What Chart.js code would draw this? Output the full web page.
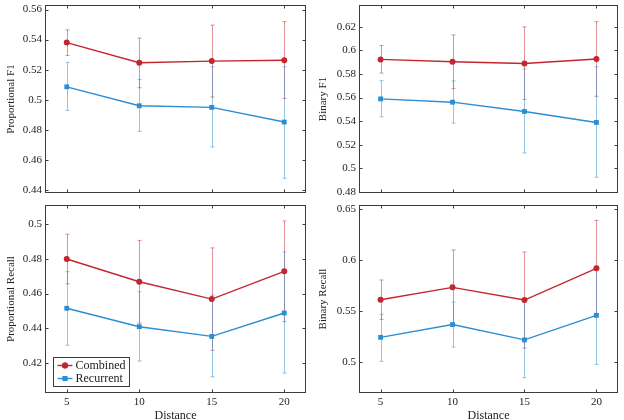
<!DOCTYPE html>
<html>
<head>
<meta charset="utf-8">
<script src="https://cdn.jsdelivr.net/npm/chart.js@4.4.1/dist/chart.umd.min.js"></script>
<style>
  body { margin: 0; background: #fff; width: 624px; height: 420px; position: relative; overflow: hidden; }
  .panel { position: absolute; }
</style>
</head>
<body>
<div class="panel" style="left:0;top:0"><canvas id="propF1" width="312" height="200"></canvas></div>
<div class="panel" style="left:312px;top:0"><canvas id="binF1" width="312" height="200"></canvas></div>
<div class="panel" style="left:0;top:200px"><canvas id="propRecall" width="312" height="220"></canvas></div>
<div class="panel" style="left:312px;top:200px"><canvas id="binRecall" width="312" height="220"></canvas></div>
<script>
// x values shared by all four panels
const distances = [5, 10, 15, 20];

// Proportional F1
const propF1Ticks = [0.44, 0.46, 0.48, 0.5, 0.52, 0.54, 0.56];
const propF1Combined = [0.538, 0.5246, 0.5257, 0.5263];
const propF1CombinedLow = [0.5294, 0.508, 0.5018, 0.5009];
const propF1CombinedHigh = [0.5465, 0.541, 0.5496, 0.552];
const propF1Recurrent = [0.5086, 0.496, 0.4949, 0.4852];
const propF1RecurrentLow = [0.4929, 0.479, 0.4686, 0.4478];
const propF1RecurrentHigh = [0.5248, 0.5135, 0.5219, 0.522];

// Binary F1
const binF1Ticks = [0.48, 0.5, 0.52, 0.54, 0.56, 0.58, 0.6, 0.62];
const binF1Combined = [0.5924, 0.5904, 0.589, 0.5927];
const binF1CombinedLow = [0.5808, 0.5676, 0.5583, 0.5611];
const binF1CombinedHigh = [0.6042, 0.6132, 0.62, 0.6245];
const binF1Recurrent = [0.5589, 0.5561, 0.5482, 0.5389];
const binF1RecurrentLow = [0.5437, 0.5383, 0.513, 0.4924];
const binF1RecurrentHigh = [0.5744, 0.5741, 0.5842, 0.5862];

// Proportional Recall
const propRecTicks = [0.42, 0.44, 0.46, 0.48, 0.5];
const propRecCombined = [0.4799, 0.4668, 0.4568, 0.4728];
const propRecCombinedLow = [0.4656, 0.443, 0.4273, 0.4438];
const propRecCombinedHigh = [0.4942, 0.4906, 0.4863, 0.5018];
const propRecRecurrent = [0.4515, 0.4409, 0.4353, 0.4488];
const propRecRecurrentLow = [0.4302, 0.4211, 0.412, 0.4142];
const propRecRecurrentHigh = [0.4726, 0.461, 0.459, 0.4839];

// Binary Recall
const binRecTicks = [0.5, 0.55, 0.6, 0.65];
const binRecCombined = [0.5613, 0.5734, 0.561, 0.592];
const binRecCombinedLow = [0.542, 0.5368, 0.514, 0.545];
const binRecCombinedHigh = [0.5806, 0.61, 0.608, 0.639];
const binRecRecurrent = [0.5245, 0.537, 0.522, 0.546];
const binRecRecurrentLow = [0.501, 0.515, 0.485, 0.498];
const binRecRecurrentHigh = [0.547, 0.559, 0.559, 0.594];

const RED = '#c3262e';
const RED_ERR = 'rgba(195, 38, 46, 0.5)';
const BLUE = '#2b8dd3';
const BLUE_ERR = 'rgba(43, 141, 211, 0.5)';
const FRAME = '#3c3c3c';
const SERIF = '"Liberation Serif", "DejaVu Serif", serif';

// error bars behind the lines, then the box frame, inner ticks and the legend
const framePlugin = {
  id: 'frame',
  beforeDatasetsDraw(chart) {
    const ctx = chart.ctx, xs = chart.scales.x, ys = chart.scales.y;
    chart.data.datasets.forEach(ds => {
      ctx.save();
      ctx.strokeStyle = ds.errColor;
      ctx.lineWidth = 1;
      ds.data.forEach((p, i) => {
        const px = Math.round(xs.getPixelForValue(p.x)) + 0.5;
        const lo = ys.getPixelForValue(ds.errLow[i]);
        const hi = ys.getPixelForValue(ds.errHigh[i]);
        ctx.beginPath();
        ctx.moveTo(px, lo); ctx.lineTo(px, hi);
        ctx.moveTo(px - 2, lo); ctx.lineTo(px + 2, lo);
        ctx.moveTo(px - 2, hi); ctx.lineTo(px + 2, hi);
        ctx.stroke();
      });
      ctx.restore();
    });
  },
  afterDraw(chart, args, opts) {
    const ctx = chart.ctx, a = chart.chartArea;
    const xs = chart.scales.x, ys = chart.scales.y;
    ctx.save();
    ctx.strokeStyle = FRAME;
    ctx.lineWidth = 1;
    const L = Math.round(a.left) + 0.5, R = Math.round(a.right) - 0.5;
    const T = Math.round(a.top) + 0.5, B = Math.round(a.bottom) - 0.5;
    ctx.strokeRect(L, T, R - L, B - T);
    ctx.beginPath();
    ys.ticks.forEach(t => {
      const py = Math.round(ys.getPixelForValue(t.value)) + 0.5;
      ctx.moveTo(L, py); ctx.lineTo(L + 3, py);
      ctx.moveTo(R, py); ctx.lineTo(R - 3, py);
    });
    xs.ticks.forEach(t => {
      const px = Math.round(xs.getPixelForValue(t.value)) + 0.5;
      ctx.moveTo(px, B); ctx.lineTo(px, B - 3);
      ctx.moveTo(px, T); ctx.lineTo(px, T + 3);
    });
    ctx.stroke();

    if (opts.legend) {
      const bx = Math.round(a.left) + 8.5, bw = 76, bh = 29;
      const by = Math.round(a.bottom) - 6.5 - bh;
      ctx.fillStyle = '#fff';
      ctx.fillRect(bx, by, bw, bh);
      ctx.strokeStyle = FRAME;
      ctx.strokeRect(bx, by, bw, bh);
      ctx.font = '12px ' + SERIF;
      ctx.textBaseline = 'middle';
      chart.data.datasets.forEach((ds, i) => {
        const cy = by + 8 + i * 13;
        ctx.strokeStyle = ds.borderColor;
        ctx.lineWidth = 1.4;
        ctx.beginPath();
        ctx.moveTo(bx + 4, cy); ctx.lineTo(bx + 19, cy);
        ctx.stroke();
        ctx.fillStyle = ds.borderColor;
        Chart.helpers.drawPoint(ctx, { pointStyle: ds.pointStyle, radius: ds.pointRadius, rotation: 0 }, bx + 11.5, cy);
        ctx.fill();
        ctx.fillStyle = '#222';
        ctx.fillText(ds.label, bx + 22, cy + 0.5);
      });
    }
    ctx.restore();
  }
};

function series(label, vals, low, high, color, errColor, style) {
  return {
    label: label,
    data: distances.map((d, i) => ({ x: d, y: vals[i] })),
    errLow: low,
    errHigh: high,
    errColor: errColor,
    borderColor: color,
    backgroundColor: color,
    borderWidth: 1.4,
    pointStyle: style,
    pointRadius: style === 'rect' ? 3.4 : 3,
    pointBorderWidth: 0,
    tension: 0
  };
}

function makeChart(id, yTitle, yTicks, yMin, yMax, axisWidth, bottomRow, datasets) {
  new Chart(document.getElementById(id), {
    type: 'line',
    data: { datasets: datasets },
    plugins: [framePlugin],
    options: {
      responsive: false,
      animation: false,
      devicePixelRatio: 1,
      layout: { padding: { top: 5, right: 6, left: 0, bottom: 0 } },
      plugins: {
        legend: { display: false },
        tooltip: { enabled: false },
        frame: { legend: id === 'propRecall' }
      },
      scales: {
        x: {
          type: 'linear',
          min: 3.5,
          max: 21.5,
          afterBuildTicks: s => { s.ticks = distances.map(v => ({ value: v })); },
          afterFit: s => { s.height = bottomRow ? 27 : 7; s.paddingLeft = 0; s.paddingRight = 0; },
          grid: { display: false, drawTicks: false },
          border: { display: false },
          ticks: { display: bottomRow, padding: 3, maxRotation: 0, color: '#222', font: { family: SERIF, size: 11 } },
          title: { display: bottomRow, text: 'Distance', color: '#222', padding: { top: 0, bottom: -3 }, font: { family: SERIF, size: 12 } }
        },
        y: {
          min: yMin,
          max: yMax,
          afterBuildTicks: s => { s.ticks = yTicks.map(v => ({ value: v })); },
          afterFit: s => { s.width = axisWidth; s.paddingTop = 0; s.paddingBottom = 0; },
          grid: { display: false, drawTicks: false },
          border: { display: false },
          ticks: { padding: 3, color: '#222', font: { family: SERIF, size: 11 }, callback: v => String(+v.toFixed(3)) },
          title: { display: true, text: yTitle, color: '#222', padding: { top: 5, bottom: 0 }, font: { family: SERIF, size: 11 } }
        }
      }
    }
  });
}

makeChart('propF1', 'Proportional F1', propF1Ticks, 0.438, 0.563, 45, false, [
  series('Combined', propF1Combined, propF1CombinedLow, propF1CombinedHigh, RED, RED_ERR, 'circle'),
  series('Recurrent', propF1Recurrent, propF1RecurrentLow, propF1RecurrentHigh, BLUE, BLUE_ERR, 'rect')
]);
makeChart('binF1', 'Binary F1', binF1Ticks, 0.479, 0.6386, 47, false, [
  series('Combined', binF1Combined, binF1CombinedLow, binF1CombinedHigh, RED, RED_ERR, 'circle'),
  series('Recurrent', binF1Recurrent, binF1RecurrentLow, binF1RecurrentHigh, BLUE, BLUE_ERR, 'rect')
]);
makeChart('propRecall', 'Proportional Recall', propRecTicks, 0.4027, 0.511, 45, true, [
  series('Combined', propRecCombined, propRecCombinedLow, propRecCombinedHigh, RED, RED_ERR, 'circle'),
  series('Recurrent', propRecRecurrent, propRecRecurrentLow, propRecRecurrentHigh, BLUE, BLUE_ERR, 'rect')
]);
makeChart('binRecall', 'Binary Recall', binRecTicks, 0.47, 0.654, 47, true, [
  series('Combined', binRecCombined, binRecCombinedLow, binRecCombinedHigh, RED, RED_ERR, 'circle'),
  series('Recurrent', binRecRecurrent, binRecRecurrentLow, binRecRecurrentHigh, BLUE, BLUE_ERR, 'rect')
]);
</script>
</body>
</html>
